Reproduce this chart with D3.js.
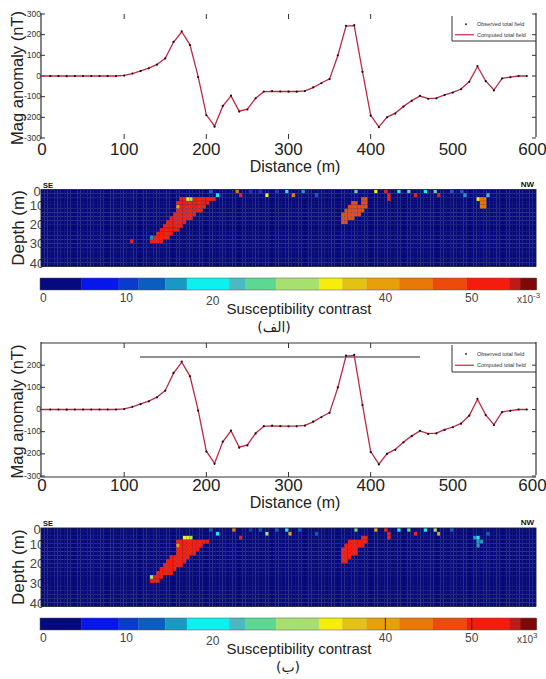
<!DOCTYPE html>
<html>
<head>
<meta charset="utf-8">
<script src="https://cdn.jsdelivr.net/npm/d3@7"></script>
<style>
  body { margin: 0; background: #fff; }
  svg { display: block; }
</style>
</head>
<body>
<div class="fig"></div>
<script>
// profile: distance (m) and total field anomaly (nT)
const distance = [0,10,20,30,40,50,60,70,80,90,100,110,120,130,140,150,160,170,180,190,
  200,210,220,230,240,250,260,270,280,290,300,310,320,330,340,350,360,370,380,390,
  400,410,420,430,440,450,460,470,480,490,500,510,520,530,540,550,560,570,580,590];
const observed = [0,0,0,-1,0,0,0,0,0,0,2,12,24,37,55,85,165,216,150,-5,
  -190,-245,-145,-95,-172,-162,-108,-75,-73,-75,-76,-76,-73,-55,-35,-15,100,243,246,20,
  -192,-248,-200,-182,-148,-120,-96,-110,-108,-92,-80,-64,-28,48,-25,-70,-12,-6,0,0];
const computed = [0,0,0,0,0,0,0,0,0,0,3,12,25,38,56,86,163,214,152,-2,
  -188,-243,-146,-96,-170,-160,-107,-76,-74,-75,-75,-75,-72,-56,-34,-14,98,241,244,22,
  -190,-246,-199,-180,-147,-119,-97,-109,-107,-91,-79,-63,-27,46,-24,-68,-11,-5,0,0];

const distTicks = [0,100,200,300,400,500,600];
const anomTicksA = [300,200,100,0,-100,-200,-300];
const anomTicksB = [200,100,0,-100,-200,-300];
const depthTicks = [0,10,20,30,40];
const cbTicks = [0,10,20,40,50];

// discrete colour bar (x10^-3)
const cbBreaks = [4.8,9.1,11.4,14.5,17,21.9,23.8,27.3,32.3,35,37.8,41.6,45.5,49.4,54.4,55.6];
const cbColors = ['#050a7e','#0716ea','#0a3ccc','#0b5ec0','#1898c2','#0cf0f0','#4cb8c2','#5cd892',
  '#a8e070','#f6ee0a','#e2c212','#e8a00a','#ea7808','#ee4a0c','#f61c0c','#c01a18','#7e0a08'];
const background = 1;

// model cells: [depth top, x from, x to, value]
const bodyRowsA = [
  [4,168,210,51],[6,166,204,51],[8,168,198,51],[10,164,194,51],[12,162,190,51],[14,158,184,51],
  [16,154,178,51],[18,150,174,51],[20,146,168,51],[22,142,162,51],[24,138,156,51],[26,132,148,51],
  [26,108,112,51],
  [4,390,398,48],[6,376,384,48],[6,390,398,48],[8,372,396,48],[10,368,392,48],[12,366,388,48],
  [14,366,380,48],[16,366,372,48],
  [4,528,540,43],[6,532,540,43],[8,532,540,43]
];
// single cells: [x, depth top, value]
const spotsA = [
  [176,4,33],[180,4,30],[164,8,38],[134,24,15],[528,4,33],
  [206,0,13],[212,2,19],[236,0,42],[240,2,51],[252,0,10],[266,0,10],[272,2,33],[284,0,10],
  [296,0,19],[304,2,42],[316,0,15],[332,2,12],[380,0,24],[404,0,33],[416,0,51],[420,2,51],
  [420,4,51],[432,0,19],[444,0,26],[452,2,51],[464,0,19],[476,0,26],[480,2,51],[496,0,12],
  [508,0,12],[512,2,15],[540,2,22]
];
const bodyRowsB = [
  [6,166,206,51],[8,166,198,51],[10,166,194,51],[12,164,188,51],[14,158,182,51],[16,154,178,51],
  [18,148,170,51],[20,144,164,51],[22,140,158,51],[24,134,150,51],[26,134,144,51],
  [4,388,396,50],[6,372,396,50],[8,368,392,50],[10,366,384,50],[12,366,384,50],[14,366,376,50],
  [16,366,372,50]
];
const spotsB = [
  [174,4,34],[178,4,34],[182,4,32],[166,8,40],[134,24,32],
  [524,4,16],[528,4,19],[528,6,16],[532,6,15],[528,8,16],[542,2,13],
  [206,0,13],[212,2,19],[234,0,42],[240,4,51],[252,0,10],[266,0,12],[272,2,30],[284,0,12],
  [296,0,19],[302,2,40],[314,0,12],[332,2,12],[380,0,26],[404,0,40],[416,0,51],[420,2,51],
  [420,4,51],[432,0,19],[444,0,26],[452,2,51],[464,0,19],[476,0,28],[480,2,40],[496,0,12]
];

const narrow = '"Liberation Sans Narrow","Liberation Sans",sans-serif';
const sans = '"Liberation Sans",Arial,sans-serif';

const svg = d3.select('.fig').append('svg')
  .attr('width', 546)
  .attr('height', 679);

const x = d3.scaleLinear().domain([0,600]).range([42,535]);
const colX = d3.scaleLinear().domain([0,600]).range([41,536]);
const cbX = d3.scaleLinear().domain([0,57.5]).range([40,536.5]);
const color = d3.scaleThreshold().domain(cbBreaks).range(cbColors);

const points = distance.map((d,i) => ({d: d, obs: observed[i], comp: computed[i]}));

function drawProfile(y, yTicks, o) {
  const g = svg.append('g');
  const top = y.range()[1], bot = y.range()[0];

  // spines
  g.append('line').attr('x1',41).attr('x2',41).attr('y1',top-1).attr('y2',bot+1)
    .attr('stroke','#333').attr('stroke-width',1.2);
  g.append('line').attr('x1',536).attr('x2',536).attr('y1',top-1).attr('y2',bot-1)
    .attr('stroke','#333').attr('stroke-width',1.2);
  if (o.frame) {
    g.append('line').attr('x1',41).attr('x2',536).attr('y1',top).attr('y2',top)
      .attr('stroke','#333').attr('stroke-width',1.2);
    g.append('line').attr('x1',41).attr('x2',536).attr('y1',bot+1).attr('y2',bot+1)
      .attr('stroke','#333').attr('stroke-width',1.2);
    g.append('line').attr('x1',140).attr('x2',420).attr('y1',top+14).attr('y2',top+14)
      .attr('stroke','#222').attr('stroke-width',1.1);
  }

  // ticks inside
  g.selectAll('.tt').data(distTicks.slice(1,5)).enter().append('line')
    .attr('x1', d => x(d)).attr('x2', d => x(d)).attr('y1', top).attr('y2', top+5)
    .attr('stroke','#333');
  g.selectAll('.tb').data(distTicks.slice(1,5)).enter().append('line')
    .attr('x1', d => x(d)).attr('x2', d => x(d)).attr('y1', bot-4).attr('y2', bot+1)
    .attr('stroke','#333');
  g.selectAll('.tl').data(yTicks).enter().append('line')
    .attr('x1',41).attr('x2',45).attr('y1', d => y(d)).attr('y2', d => y(d))
    .attr('stroke','#333');
  g.selectAll('.tr').data(yTicks).enter().append('line')
    .attr('x1',532).attr('x2',536).attr('y1', d => y(d)).attr('y2', d => y(d))
    .attr('stroke','#333');

  // tick labels (the last one nudged so it stays inside the page)
  g.selectAll('.xl').data(distTicks).enter().append('text')
    .attr('x', d => d === 600 ? x(d) - 2.5 : x(d)).attr('y', o.xLabelY)
    .attr('text-anchor','middle')
    .attr('font-family', narrow).attr('font-size', 17).attr('fill','#222')
    .text(d => d);
  g.selectAll('.yl').data(yTicks).enter().append('text')
    .attr('x', 41).attr('y', d => y(d) + 2.5)
    .attr('text-anchor','end')
    .attr('font-family', narrow).attr('font-size', 8.5).attr('fill','#333')
    .text(d => d);

  g.append('text').attr('x', 295).attr('y', o.xLabelY + 17)
    .attr('text-anchor','middle')
    .attr('font-family', sans).attr('font-size', 16).attr('fill','#222')
    .text('Distance (m)');
  g.append('text')
    .attr('transform', 'translate(23,' + ((top+bot)/2 + 2) + ') rotate(-90)')
    .attr('text-anchor','middle')
    .attr('font-family', sans).attr('font-size', 16.5).attr('fill','#222')
    .text('Mag anomaly (nT)');

  // computed curve and observed points
  const line = d3.line().x(d => x(d.d)).y(d => y(d.comp));
  g.append('path').datum(points).attr('d', line)
    .attr('fill','none').attr('stroke','#c02840').attr('stroke-width',1.3);
  g.selectAll('.obs').data(points.slice(1)).enter().append('circle')
    .attr('cx', d => x(d.d)).attr('cy', d => y(d.obs)).attr('r', 1.1)
    .attr('fill','#111');

  // legend
  const ly = top + 2;
  g.append('line').attr('x1',452).attr('x2',452).attr('y1',ly).attr('y2',ly+o.legH)
    .attr('stroke','#333');
  g.append('line').attr('x1',452).attr('x2',536).attr('y1',ly+o.legH).attr('y2',ly+o.legH)
    .attr('stroke','#333');
  g.append('circle').attr('cx',466).attr('cy',ly+o.legH*0.33).attr('r',0.9).attr('fill','#111');
  g.append('line').attr('x1',455).attr('x2',474)
    .attr('y1',ly+o.legH*0.75).attr('y2',ly+o.legH*0.75)
    .attr('stroke','#c02840').attr('stroke-width',1.2);
  g.append('text').attr('x',477).attr('y',ly+o.legH*0.33+2)
    .attr('font-family', narrow).attr('font-size',5.5).attr('fill','#333')
    .text('Observed total field');
  g.append('text').attr('x',477).attr('y',ly+o.legH*0.75+2)
    .attr('font-family', narrow).attr('font-size',5.5).attr('fill','#333')
    .text('Computed total field');
}

function drawSection(depth, rows, spots, o) {
  const g = svg.append('g');
  const top = depth.range()[0], bot = depth.range()[1];

  // depth labels sit partly under the section, as in the original
  g.selectAll('.dl').data(depthTicks).enter().append('text')
    .attr('x', 37).attr('y', d => d === 0 ? depth(d) + 6 : depth(d) + 1)
    .attr('text-anchor','middle')
    .attr('font-family', narrow).attr('font-size', 13).attr('fill','#444')
    .text(d => d);

  const values = [];
  for (let r = 0; r < 20; r++) {
    values.push([]);
    for (let c = 0; c < 150; c++) values[r].push(background);
  }
  const set = (xm, dm, v) => { values[Math.floor(dm/2)][Math.floor(xm/4)] = v; };
  rows.forEach(([dm, a, b, v]) => { for (let xm = a; xm < b; xm += 4) set(xm, dm, v); });
  spots.forEach(([xm, dm, v]) => set(xm, dm, v));

  const cells = [];
  values.forEach((row, r) => row.forEach((v, c) => cells.push({x: c*4, d: r*2, v: v})));

  g.selectAll('rect').data(cells).enter().append('rect')
    .attr('x', d => colX(d.x)).attr('y', d => depth(d.d))
    .attr('width', colX(4) - colX(0)).attr('height', depth(2) - depth(0))
    .attr('fill', d => color(d.v))
    .attr('stroke','#02044a').attr('stroke-width',0.25).attr('stroke-opacity',0.6);
  g.append('rect').attr('x',41).attr('y',top).attr('width',495).attr('height',bot-top)
    .attr('fill','none').attr('stroke','#222').attr('stroke-width',0.8);

  g.append('text').attr('x',43).attr('y',top-2)
    .attr('font-family', sans).attr('font-weight','bold').attr('font-size',7.5).attr('fill','#111')
    .text('SE');
  g.append('text').attr('x',534).attr('y',top-3).attr('text-anchor','end')
    .attr('font-family', sans).attr('font-weight','bold').attr('font-size',8).attr('fill','#111')
    .text('NW');
  g.append('text')
    .attr('transform', 'translate(24,' + ((top+bot)/2) + ') rotate(-90)')
    .attr('text-anchor','middle')
    .attr('font-family', sans).attr('font-size', 17).attr('fill','#222')
    .text('Depth (m)');

  // colour bar
  const edges = [0].concat(cbBreaks, [57.5]);
  const cy = o.cbY;
  g.selectAll('.cb').data(cbColors).enter().append('rect')
    .attr('x', (d,i) => cbX(edges[i])).attr('y', cy)
    .attr('width', (d,i) => cbX(edges[i+1]) - cbX(edges[i]) + 0.3).attr('height', 12)
    .attr('fill', d => d);
  g.append('rect').attr('x',40).attr('y',cy).attr('width',496.5).attr('height',12)
    .attr('fill','none').attr('stroke','#555').attr('stroke-width',0.5);
  if (o.cbLines) {
    g.selectAll('.cbl').data([40,50]).enter().append('line')
      .attr('x1', d => cbX(d)).attr('x2', d => cbX(d)).attr('y1', cy).attr('y2', cy+12)
      .attr('stroke','#222').attr('stroke-width',1);
  }
  g.selectAll('.cbt').data(cbTicks).enter().append('text')
    .attr('x', d => cbX(d)).attr('y', d => cy + 24 + (d === 20 ? 3 : 0))
    .attr('text-anchor', d => d === 0 ? 'start' : 'middle')
    .attr('font-family', narrow).attr('font-size', 12).attr('fill','#444')
    .text(d => d);
  g.append('text').attr('x',517).attr('y',cy+25)
    .attr('font-family', narrow).attr('font-size', 10).attr('fill','#444')
    .text('x10');
  g.append('text').attr('x',533).attr('y',cy+20)
    .attr('font-family', narrow).attr('font-size', 8).attr('fill','#444')
    .text(o.expo);

  g.append('text').attr('x',299).attr('y',cy+36)
    .attr('text-anchor','middle')
    .attr('font-family', sans).attr('font-size', 15).attr('fill','#222')
    .text('Susceptibility contrast');
  g.append('text').attr('x',o.tagX).attr('y',cy+54)
    .attr('text-anchor','middle')
    .attr('font-family','"DejaVu Sans",sans-serif').attr('font-size', 14).attr('fill','#222')
    .text(o.tag);
}

const yA = d3.scaleLinear().domain([-300,300]).range([138,14]);
const yB = d3.scaleLinear().domain([-300,300]).range([476,343]);
const depthA = d3.scaleLinear().domain([0,40]).range([189.5,266.5]);
const depthB = d3.scaleLinear().domain([0,40]).range([528,606.5]);

drawProfile(yA, anomTicksA, {xLabelY: 155, frame: false, legH: 25});
drawSection(depthA, bodyRowsA, spotsA, {cbY: 278, cbLines: false, expo: '-3', tag: '(الف)', tagX: 274});
drawProfile(yB, anomTicksB, {xLabelY: 491, frame: true, legH: 27});
drawSection(depthB, bodyRowsB, spotsB, {cbY: 618, cbLines: true, expo: '3', tag: '(ب)', tagX: 288});
</script>
</body>
</html>
